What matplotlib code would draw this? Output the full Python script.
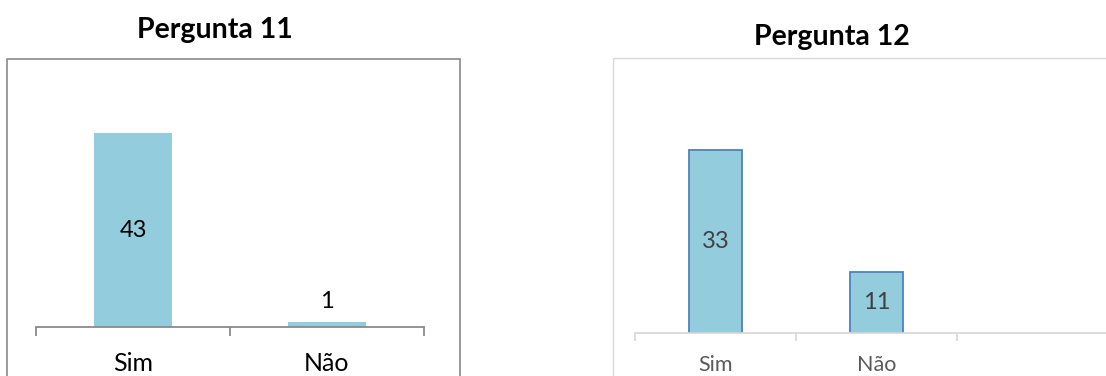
import matplotlib
matplotlib.use("Agg")
import matplotlib.pyplot as plt
from matplotlib.patches import Rectangle

# ---- data ----
titles = ["Pergunta 11", "Pergunta 12"]
cats_11 = ["Sim", "Não"]
vals_11 = [43, 1]
cats_12 = ["Sim", "Não", ""]
vals_12 = [33, 11]

W, H = 1106, 376
plt.rcParams['font.family'] = ['Lato', 'DejaVu Sans']
fig = plt.figure(figsize=(W / 100, H / 100), dpi=100)
fig.patch.set_facecolor("white")


def box(x0, y0, x1, y1):
    return [x0 / W, 1 - y1 / H, (x1 - x0) / W, (y1 - y0) / H]


def frame(x0, y0, x1, y1, color, lw):
    fig.patches.append(Rectangle((x0 / W, 1 - y1 / H), (x1 - x0) / W, (y1 - y0) / H,
                                 transform=fig.transFigure, fill=False,
                                 edgecolor=color, linewidth=lw, zorder=0))


def style_axes(ax, cats, axis_color, tick_len, label_color, fs, pad):
    ncat = len(cats)
    for s in ["top", "right", "left"]:
        ax.spines[s].set_visible(False)
    ax.spines["bottom"].set_color(axis_color)
    ax.spines["bottom"].set_linewidth(1.3)
    ax.set_yticks([])
    ax.set_xlim(-0.5, ncat - 0.5)
    ax.set_xticks(range(ncat))
    ax.set_xticklabels(cats)
    ax.tick_params(axis="x", which="major", length=0, pad=pad,
                   labelsize=fs, labelcolor=label_color)
    ax.set_xticks([i - 0.5 for i in range(ncat + 1)], minor=True)
    ax.tick_params(axis="x", which="minor", length=tick_len, width=1.3,
                   color=axis_color, direction="out")
    ax.patch.set_alpha(0)


# ---- chart 1 (Pergunta 11) ----
frame(7, 59, 460, 400, "#8a8a8a", 1.2)
fig.text(215 / W, 1 - 38 / H, titles[0], ha="center", va="baseline",
         fontsize=20.5, fontweight="bold", color="black")
ax1 = fig.add_axes(box(36, 327 - 50 * 4.51, 424, 327))
ax1.set_ylim(0, 50)
ax1.bar(range(len(vals_11)), vals_11, width=0.40, color="#93cddd", linewidth=0)
style_axes(ax1, cats_11, "#8a8a8a", 6.5, "black", 18, 18)
ax1.text(0, vals_11[0] / 2, str(vals_11[0]), ha="center", va="center",
         fontsize=17, color="black")
ax1.annotate(str(vals_11[1]), (1, vals_11[1]), xytext=(0, 10.5),
             textcoords="offset points", ha="center", va="baseline",
             fontsize=17, color="black")

# ---- chart 2 (Pergunta 12) ----
frame(613, 58, 1300, 400, "#d9d9d9", 1.0)
fig.text(832 / W, 1 - 45 / H, titles[1], ha="center", va="baseline",
         fontsize=20.5, fontweight="bold", color="black")
ax2 = fig.add_axes(box(635, 333 - 40 * 5.545, 1118, 333))
ax2.set_ylim(0, 40)
ax2.bar(range(len(vals_12)), vals_12, width=0.33, color="#93cddd",
        edgecolor="#4f81bd", linewidth=1.3)
style_axes(ax2, cats_12, "#d9d9d9", 5.5, "#595959", 15.5, 16)
for i, v in enumerate(vals_12):
    ax2.text(i, v / 2, str(v), ha="center", va="center",
             fontsize=17, color="#404040")

fig.savefig("out.png", dpi=100, facecolor="white")
